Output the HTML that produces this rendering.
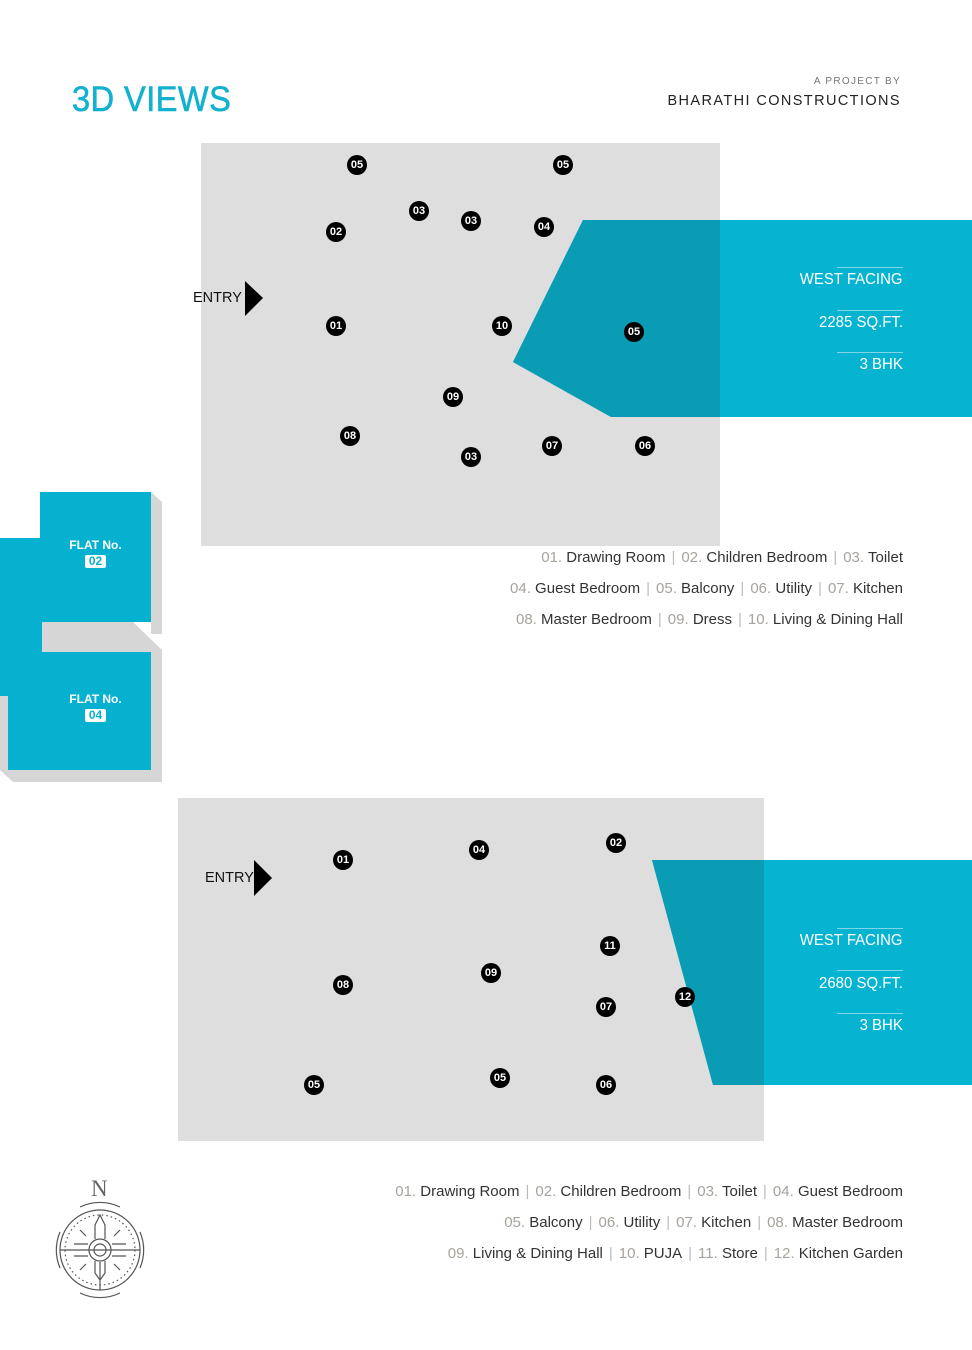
<!DOCTYPE html>
<html><head><meta charset="utf-8"><style>
body{margin:0;width:972px;height:1350px;background:#fff;position:relative;overflow:hidden;font-family:"Liberation Sans",sans-serif}
.a{position:absolute}
.d{position:absolute;width:20px;height:20px;margin:-10px 0 0 -10px;border-radius:50%;background:#000;color:#fff;font-size:11px;line-height:20px;text-align:center;font-weight:bold}
.leg{position:absolute;right:69px;font-size:15px;color:#333;white-space:nowrap;text-align:right}
.leg b{font-weight:normal;color:#a8a29c}
.leg i{font-style:normal;color:#bbb;margin:0 6px}
.wf{position:absolute;right:69px;color:#fff;font-size:15.5px;text-align:right;transform:scaleX(0.965);transform-origin:right}
.ln{position:absolute;right:69px;width:66px;height:1px;background:#7fd6e6}
</style></head><body>
<div class="a" style="left:72px;top:80px;font-size:35px;color:#12b1cf;letter-spacing:0.5px;transform:scaleX(0.93);transform-origin:left;-webkit-text-stroke:0.6px #12b1cf">3D VIEWS</div>
<div class="a" style="right:71px;top:76px;font-size:10px;color:#777;letter-spacing:1.3px">A PROJECT BY</div>
<div class="a" style="right:71px;top:93px;font-size:14.5px;color:#222;letter-spacing:1.4px">BHARATHI CONSTRUCTIONS</div>

<svg class="a" style="left:0;top:0" width="972" height="1350">
<rect x="201" y="143" width="519" height="403" fill="#dedede"/>
<polygon points="583,220 972,220 972,417 611,417 513,362" fill="#06b3d0"/>
<clipPath id="c1"><rect x="0" y="0" width="720" height="600"/></clipPath>
<polygon clip-path="url(#c1)" points="583,220 972,220 972,417 611,417 513,362" fill="#0a9bb5"/>
<polygon points="245,281 263,298 245,316" fill="#000"/>
<rect x="178" y="798" width="586" height="343" fill="#dedede"/>
<polygon points="652,860 972,860 972,1085 713,1085" fill="#06b3d0"/>
<clipPath id="c2"><rect x="0" y="700" width="764" height="500"/></clipPath>
<polygon clip-path="url(#c2)" points="652,860 972,860 972,1085 713,1085" fill="#0a9bb5"/>
<polygon points="254,860 272,878 254,896" fill="#000"/>
<polygon points="151,492 162,502 162,634 151,634" fill="#d6d6d6"/>
<polygon points="42,622 133,622 162,650 162,782 13,782 0,770 0,696 8,696 8,652 42,652" fill="#d6d6d6"/>
<rect x="40" y="492" width="111" height="130" fill="#06b1cf"/>
<rect x="0" y="538" width="42" height="158" fill="#06b1cf"/>
<rect x="8" y="652" width="143" height="118" fill="#06b1cf"/>
<rect x="0" y="652" width="8" height="44" fill="#06b1cf"/>
<g fill="none" stroke="#555" stroke-width="1.2">
<circle cx="100" cy="1250" r="40"/>
<circle cx="100" cy="1250" r="35" stroke-dasharray="1.5 3"/>
<path d="M60,1232 A46,46 0 0 0 60,1268 M140,1232 A46,46 0 0 1 140,1268 M80,1207 A46,46 0 0 1 120,1207 M80,1293 A46,46 0 0 0 120,1293"/>
<line x1="60" y1="1250" x2="140" y2="1250"/><line x1="100" y1="1262" x2="100" y2="1290"/>
<circle cx="100" cy="1250" r="11"/><circle cx="100" cy="1250" r="6"/>
<path d="M95,1239 L95,1225 L100,1215 L105,1225 L105,1239 M95,1261 L95,1273 L100,1280 L105,1273 L105,1261"/>
<path d="M86,1236 L80,1230 M114,1236 L120,1230 M86,1264 L80,1270 M114,1264 L120,1270 M88,1244 L74,1244 M112,1244 L126,1244 M88,1256 L74,1256 M112,1256 L126,1256"/>
</g>
</svg>
<div class="a" style="left:91px;top:1176px;font-family:'Liberation Serif',serif;font-size:23px;color:#666">N</div>

<div class="a" style="left:40px;top:538px;width:111px;text-align:center;color:#fff;font-size:12px;font-weight:bold">FLAT No.<br><span style="display:inline-block;background:#fff;color:#06b1cf;border-radius:2px;padding:0 4px;line-height:13px;margin-top:3px">02</span></div>
<div class="a" style="left:40px;top:692px;width:111px;text-align:center;color:#fff;font-size:12px;font-weight:bold">FLAT No.<br><span style="display:inline-block;background:#fff;color:#06b1cf;border-radius:2px;padding:0 4px;line-height:13px;margin-top:3px">04</span></div>

<div class="a" style="left:193px;top:290px;font-size:14.5px;color:#111">ENTRY</div>
<div class="a" style="left:205px;top:870px;font-size:14.5px;color:#111">ENTRY</div>

<div class="ln" style="top:267px"></div><div class="wf" style="top:271px">WEST FACING</div>
<div class="ln" style="top:310px"></div><div class="wf" style="top:314px">2285 SQ.FT.</div>
<div class="ln" style="top:352px"></div><div class="wf" style="top:356px">3 BHK</div>
<div class="ln" style="top:928px"></div><div class="wf" style="top:932px">WEST FACING</div>
<div class="ln" style="top:970px"></div><div class="wf" style="top:975px">2680 SQ.FT.</div>
<div class="ln" style="top:1013px"></div><div class="wf" style="top:1017px">3 BHK</div>

<div class="d" style="left:357px;top:165px">05</div><div class="d" style="left:563px;top:165px">05</div>
<div class="d" style="left:419px;top:211px">03</div><div class="d" style="left:471px;top:221px">03</div>
<div class="d" style="left:544px;top:227px">04</div><div class="d" style="left:336px;top:232px">02</div>
<div class="d" style="left:336px;top:326px">01</div><div class="d" style="left:502px;top:326px">10</div>
<div class="d" style="left:634px;top:332px">05</div><div class="d" style="left:453px;top:397px">09</div>
<div class="d" style="left:350px;top:436px">08</div><div class="d" style="left:471px;top:457px">03</div>
<div class="d" style="left:552px;top:446px">07</div><div class="d" style="left:645px;top:446px">06</div>

<div class="d" style="left:343px;top:860px">01</div><div class="d" style="left:479px;top:850px">04</div>
<div class="d" style="left:616px;top:843px">02</div><div class="d" style="left:610px;top:946px">11</div>
<div class="d" style="left:491px;top:973px">09</div><div class="d" style="left:343px;top:985px">08</div>
<div class="d" style="left:685px;top:997px">12</div><div class="d" style="left:606px;top:1007px">07</div>
<div class="d" style="left:314px;top:1085px">05</div><div class="d" style="left:500px;top:1078px">05</div>
<div class="d" style="left:606px;top:1085px">06</div>

<div class="leg" style="top:549px"><b>01.</b> Drawing Room<i>|</i><b>02.</b> Children Bedroom<i>|</i><b>03.</b> Toilet</div>
<div class="leg" style="top:580px"><b>04.</b> Guest Bedroom<i>|</i><b>05.</b> Balcony<i>|</i><b>06.</b> Utility<i>|</i><b>07.</b> Kitchen</div>
<div class="leg" style="top:611px"><b>08.</b> Master Bedroom<i>|</i><b>09.</b> Dress<i>|</i><b>10.</b> Living &amp; Dining Hall</div>
<div class="leg" style="top:1183px"><b>01.</b> Drawing Room<i>|</i><b>02.</b> Children Bedroom<i>|</i><b>03.</b> Toilet<i>|</i><b>04.</b> Guest Bedroom</div>
<div class="leg" style="top:1214px"><b>05.</b> Balcony<i>|</i><b>06.</b> Utility<i>|</i><b>07.</b> Kitchen<i>|</i><b>08.</b> Master Bedroom</div>
<div class="leg" style="top:1245px"><b>09.</b> Living &amp; Dining Hall<i>|</i><b>10.</b> PUJA<i>|</i><b>11.</b> Store<i>|</i><b>12.</b> Kitchen Garden</div>
</body></html>
